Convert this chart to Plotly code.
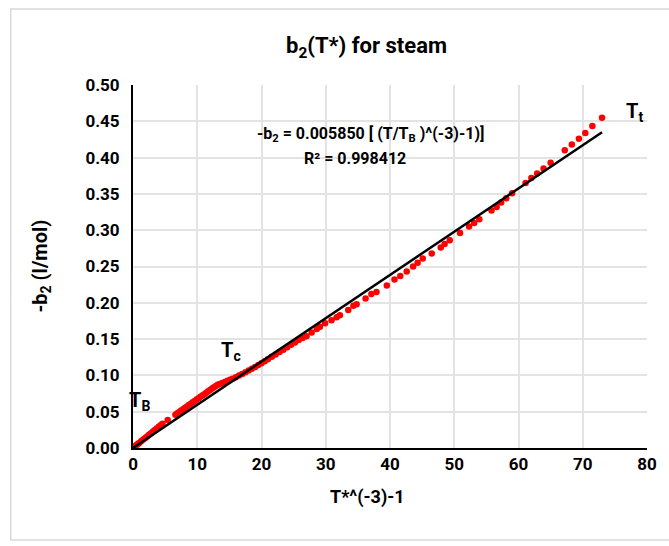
import plotly.graph_objects as go

# Data
x_data = [0, 0.2, 0.4, 0.6, 0.8, 1.0, 1.3, 1.6, 1.9, 2.2, 2.5, 2.8, 3.1, 3.4, 3.7, 4.0, 4.3, 4.6,
          5.4,
          6.6, 6.9, 7.2, 7.5, 7.8, 8.1, 8.4, 8.7, 9.0, 9.3, 9.6, 9.9, 10.2, 10.5, 10.8, 11.1, 11.4,
          11.7, 12.0, 12.3, 12.6, 12.9, 13.2,
          13.5, 13.9, 14.3, 14.7, 15.1, 15.5, 16.0, 16.5, 17.0, 17.5, 18.0, 18.5, 19.0, 19.5, 20.0,
          20.5, 21.0, 21.6, 22.2, 22.8, 23.4, 24.0, 24.6, 25.2, 25.8, 26.4,
          27.0, 27.8, 28.6, 29.1, 29.9, 30.9, 31.7, 32.2, 33.5, 34.3, 34.8, 36.2, 37.1, 37.9, 39.5,
          40.7, 41.6, 42.6, 43.6, 44.3, 45.1, 46.5, 47.9, 48.5, 49.3, 50.9, 52.3, 53.1, 53.9, 55.8,
          56.6, 57.3, 58.1, 59.0, 61.1, 62.0, 62.9, 63.9, 65.0, 67.2, 68.3, 69.4, 70.4, 71.5, 73.0]
y_data = [0, 0.0015, 0.003, 0.0045, 0.006, 0.0073, 0.0095, 0.0117, 0.0139, 0.016, 0.0182, 0.0204,
          0.0226, 0.0248, 0.027, 0.0292, 0.0313, 0.0334,
          0.0386,
          0.0458, 0.0477, 0.0496, 0.0515, 0.0534, 0.0553, 0.0572, 0.0591, 0.061, 0.0629, 0.0648,
          0.0667, 0.0686, 0.0705, 0.0723, 0.0742, 0.0761, 0.078, 0.0799, 0.0818, 0.0836, 0.0854, 0.087,
          0.0882, 0.0896, 0.091, 0.0925, 0.094, 0.0955, 0.0975, 0.0997, 0.102, 0.1043, 0.1067,
          0.1092, 0.1117, 0.1143, 0.1169, 0.1196, 0.1223, 0.1256, 0.1289, 0.1322, 0.1355, 0.1388,
          0.1421, 0.1454, 0.1487, 0.1515,
          0.154, 0.159, 0.164, 0.167, 0.172, 0.176, 0.180, 0.183, 0.190, 0.196, 0.198, 0.206, 0.212,
          0.215, 0.224, 0.232, 0.237, 0.243, 0.250, 0.255, 0.261, 0.268, 0.276, 0.281, 0.286, 0.296,
          0.305, 0.310, 0.315, 0.327, 0.332, 0.338, 0.344, 0.351, 0.365, 0.372, 0.378, 0.385, 0.393,
          0.410, 0.418, 0.426, 0.434, 0.4435, 0.455]

trend_x = [0, 73.0]
trend_y = [0, 0.435]

x_ticks = [0, 10, 20, 30, 40, 50, 60, 70, 80]
y_ticks = [0.00, 0.05, 0.10, 0.15, 0.20, 0.25, 0.30, 0.35, 0.40, 0.45, 0.50]

FONT = "Roboto"

fig = go.Figure()
fig.add_trace(go.Scatter(x=x_data, y=y_data, mode="markers",
                         marker=dict(color="#ff0000", size=6.5, line=dict(width=0)),
                         showlegend=False))
fig.add_trace(go.Scatter(x=trend_x, y=trend_y, mode="lines",
                         line=dict(color="#000000", width=2.5), showlegend=False))

L, R, T, B = 133, 19, 85, 98
W, H = 669, 546
pw, ph = W - L - R, H - T - B


def px(xp):
    return (xp - L) / pw


def py(yp):
    return (H - B - yp) / ph


annots = [
    dict(text="<b>b<sub>2</sub>(T*) for steam</b>", x=px(368), y=py(48), size=22),
    dict(text="<b>T*^(-3)-1</b>", x=px(369), y=py(497), size=18),
    dict(text="<b>-b<sub>2</sub> = 0.005850 [ (T/T<sub>B</sub> )^(-3)-1)]</b>", x=px(372), y=py(134), size=16),
    dict(text="<b>R² = 0.998412</b>", x=px(356), y=py(158), size=16),
    dict(text="<b>T<sub>B</sub></b>", x=px(140), y=py(401), size=20),
    dict(text="<b>T<sub>c</sub></b>", x=px(232), y=py(351), size=20),
    dict(text="<b>T<sub>t</sub></b>", x=px(637), y=py(112), size=20),
]
annotations = [dict(text=a["text"], x=a["x"], y=a["y"], xref="paper", yref="paper",
                    showarrow=False, xanchor="center", yanchor="middle",
                    font=dict(family=FONT, size=a["size"], color="#000000")) for a in annots]
annotations.append(dict(text="<b>-b<sub>2</sub> (l/mol)</b>", x=px(40), y=py(266), xref="paper",
                        yref="paper", showarrow=False, textangle=-90, xanchor="center",
                        yanchor="middle", font=dict(family=FONT, size=20, color="#000000")))

fig.update_layout(
    width=W, height=H,
    margin=dict(l=L, r=R, t=T, b=B),
    paper_bgcolor="white", plot_bgcolor="white",
    font=dict(family=FONT, color="#000000"),
    annotations=annotations,
    shapes=[dict(type="rect", xref="paper", yref="paper",
                 x0=px(10), x1=px(700), y0=py(540), y1=py(9),
                 line=dict(color="#d9d9d9", width=1.5), fillcolor="rgba(0,0,0,0)", layer="below")],
)
fig.update_xaxes(range=[0, 80], tickvals=x_ticks, ticktext=[f"<b>{v}</b>" for v in x_ticks],
                 showgrid=True, gridcolor="#e3e3e3", gridwidth=1.5,
                 showline=True, linecolor="#000000", linewidth=2, zeroline=False,
                 ticks="", tickfont=dict(family=FONT, size=17, color="#000000"))
fig.update_yaxes(range=[0, 0.5], tickvals=y_ticks, ticktext=[f"<b>{v:.2f}</b>" for v in y_ticks],
                 showgrid=True, gridcolor="#e3e3e3", gridwidth=1.5,
                 showline=True, linecolor="#000000", linewidth=2, zeroline=False,
                 ticks="", ticklabelstandoff=8,
                 tickfont=dict(family=FONT, size=17, color="#000000"))

fig.write_html("out.html")
